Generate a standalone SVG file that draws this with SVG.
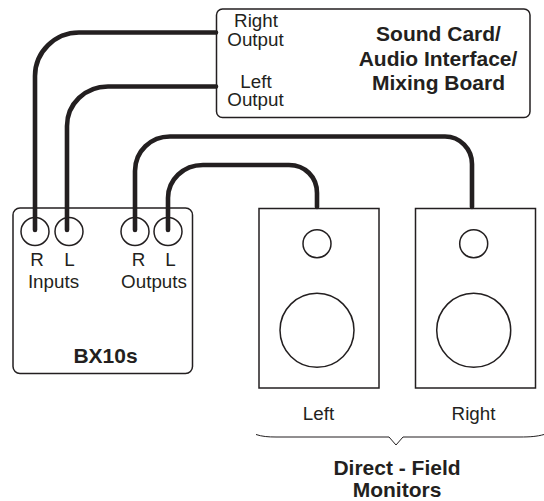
<svg xmlns="http://www.w3.org/2000/svg" width="544" height="501" viewBox="0 0 544 501">
<style>
.b{fill:#fff;stroke:#231f20;stroke-width:1.5}
.c{fill:none;stroke:#231f20;stroke-width:1.5}
.w{fill:none;stroke:#231f20;stroke-width:4.600;stroke-linecap:round}
text{font-family:"Liberation Sans",Arial,sans-serif;fill:#231f20;text-anchor:middle;font-size:18.800px}
.t{font-weight:bold;font-size:21px}
</style>
<rect width="544" height="501" fill="#fff"/>
<g id="soundcard">
<rect class="b" x="216.500" y="9" width="313.500" height="108.500" rx="6"/>
<text x="256" y="27">Right</text><text x="255.500" y="46">Output</text>
<text x="256" y="88">Left</text><text x="255.500" y="106">Output</text>
<text class="t" x="438.500" y="41">Sound Card/</text>
<text class="t" x="438" y="65.500">Audio Interface/</text>
<text class="t" x="438.500" y="90">Mixing Board</text>
</g>
<g id="bx10s">
<rect class="b" x="13" y="208" width="179.500" height="165.500" rx="7"/>
<circle class="c" cx="35" cy="231.500" r="14"/><circle class="c" cx="69" cy="231.500" r="14"/>
<circle class="c" cx="135" cy="231.500" r="14"/><circle class="c" cx="168" cy="231.500" r="14"/>
<text x="37" y="266">R</text><text x="69.500" y="266">L</text><text x="138.500" y="266">R</text><text x="170.500" y="266">L</text>
<text x="53.500" y="288">Inputs</text><text x="154" y="288">Outputs</text>
<text class="t" x="105.500" y="363">BX10s</text>
</g>
<g id="left-monitor">
<rect class="b" x="259" y="208.500" width="120" height="179.500"/>
<circle class="c" cx="317" cy="243.700" r="14"/><circle class="c" cx="317" cy="330.300" r="37"/>
<text x="318.500" y="420">Left</text>
</g>
<g id="right-monitor">
<rect class="b" x="415.500" y="208.500" width="120" height="179.500"/>
<circle class="c" cx="473.700" cy="243.700" r="14"/><circle class="c" cx="473.700" cy="330.300" r="37"/>
<text x="473.500" y="420">Right</text>
</g>
<g id="connectors">
<path class="w" d="M216 32.500H79C55 32.500 35 52 35 76V230"/>
<path class="w" d="M216 86.500H108C85 86.500 67 104 67 126V230"/>
<path class="w" d="M135 230V171C135 151 151 136.500 170 136.500H445C460 136.500 472 149 472 164V207"/>
<path class="w" d="M168 230V198C168 180 183 165 203 165H289C305 165 317 177 317 193V207"/>
</g>
<g id="brace">
<path d="M256 434.500C262 436.500 268 437 276 437H389L396 445L403 437H520C530 437 537 436.500 544 434.500" fill="none" stroke="#231f20" stroke-width="1"/>
</g>
<g id="group-label">
<text class="t" x="397" y="475">Direct - Field</text>
<text class="t" x="397" y="497">Monitors</text>
</g>
</svg>
